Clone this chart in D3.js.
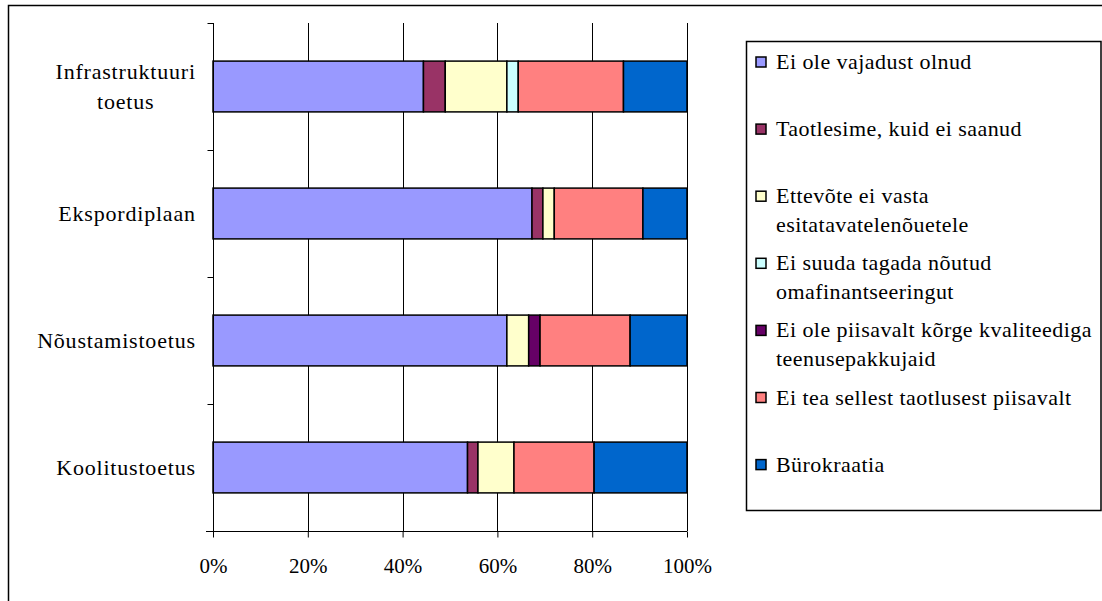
<!DOCTYPE html>
<html><head><meta charset="utf-8">
<script src="https://cdn.jsdelivr.net/npm/d3@7"></script>
<style>
body{margin:0;background:#fff;}
</style></head>
<body><svg id="chart" width="1102" height="601"></svg>
<script>
const categories = ["Infrastruktuuri toetus", "Ekspordiplaan", "Nõustamistoetus", "Koolitustoetus"];
const categoryLines = [["Infrastruktuuri", "toetus"], ["Ekspordiplaan"], ["Nõustamistoetus"], ["Koolitustoetus"]];
const seriesNames = ["Ei ole vajadust olnud", "Taotlesime, kuid ei saanud", "Ettevõte ei vasta esitatavatelenõuetele", "Ei suuda tagada nõutud omafinantseeringut", "Ei ole piisavalt kõrge kvaliteediga teenusepakkujaid", "Ei tea sellest taotlusest piisavalt", "Bürokraatia"];
const legendLines = [["Ei ole vajadust olnud"], ["Taotlesime, kuid ei saanud"], ["Ettevõte ei vasta", "esitatavatelenõuetele"], ["Ei suuda tagada nõutud", "omafinantseeringut"], ["Ei ole piisavalt kõrge kvaliteediga", "teenusepakkujaid"], ["Ei tea sellest taotlusest piisavalt"], ["Bürokraatia"]];
const colors = ["#9999FF", "#993366", "#FFFFCC", "#CCFFFF", "#660066", "#FF8080", "#0066CC"];
// values per series, in order of categories
const s1 = [44.4, 67.3, 62.0, 53.7];
const s2 = [4.6, 2.3, 0, 2.2];
const s3 = [13.0, 2.4, 4.6, 7.6];
const s4 = [2.4, 0, 0, 0];
const s5 = [0, 0, 2.4, 0];
const s6 = [22.2, 18.7, 19.0, 16.9];
const s7 = [13.4, 9.3, 12.0, 19.6];
const tickValues = [0, 0.2, 0.4, 0.6, 0.8, 1.0];

const FONT = "'Liberation Serif', 'Times New Roman', serif";
const series = [s1, s2, s3, s4, s5, s6, s7];
const rows = categories.map((c, i) => {
  const o = {cat: c};
  seriesNames.forEach((s, j) => o[s] = series[j][i]);
  return o;
});
const stacked = d3.stack().keys(seriesNames).offset(d3.stackOffsetExpand)(rows);

const svg = d3.select("#chart").style("font-family", FONT);
svg.append("rect").attr("x", 8.5).attr("y", 5.5).attr("width", 1100).attr("height", 600)
  .attr("fill", "none").attr("stroke", "#000").attr("stroke-width", 1.5);

const x = d3.scaleLinear().domain([0, 1]).range([213, 687]);
const y = d3.scaleBand().domain(categories).range([23, 531]).padding(0);
const bw = y.bandwidth();

svg.append("g").selectAll("line").data(tickValues.slice(1)).join("line")
  .attr("x1", d => Math.round(x(d)) + 0.5).attr("x2", d => Math.round(x(d)) + 0.5)
  .attr("y1", 23).attr("y2", 531).attr("stroke", "#000").attr("stroke-width", 1);

svg.append("g").selectAll("g").data(stacked).join("g")
  .attr("fill", (d, i) => colors[i])
  .selectAll("rect").data(d => d.filter(p => p[1] - p[0] > 0)).join("rect")
  .attr("x", d => x(d[0])).attr("width", d => x(d[1]) - x(d[0]))
  .attr("y", d => y(d.data.cat) + bw * 0.3).attr("height", bw * 0.4)
  .attr("stroke", "#000").attr("stroke-width", 1.5);

const xAxis = d3.axisBottom(x).tickValues(tickValues).tickFormat(d3.format(".0%")).tickSize(6).tickSizeOuter(0);
const gx = svg.append("g").attr("transform", "translate(0,531.5)").call(xAxis);
gx.attr("font-family", null).attr("font-size", null);
gx.select(".domain").attr("d", "M206,0H687").attr("stroke", "#000");
gx.selectAll(".tick line").attr("stroke", "#000");
gx.selectAll(".tick text").attr("y", 41).attr("dy", 0).style("font-family", FONT).style("font-size", "21px");

const yAxis = d3.axisLeft(y).tickSize(0).tickFormat("");
const gy = svg.append("g").attr("transform", "translate(213.5,0)").call(yAxis);
gy.select(".domain").attr("d", "M0,23V531").attr("stroke", "#000");
const bounds = [23, ...categories.map(c => y(c) + bw)];
gy.selectAll(".bt").data(bounds).join("line").attr("class", "bt")
  .attr("x1", -6).attr("x2", 0).attr("y1", d => Math.round(d) + 0.5).attr("y2", d => Math.round(d) + 0.5)
  .attr("stroke", "#000");

categories.forEach((c, i) => {
  const lines = categoryLines[i];
  const cy = y(c) + bw / 2;
  const t = svg.append("text").attr("text-anchor", "middle").style("font-family", FONT).style("font-size", "22px").attr("letter-spacing", "0.8px");
  lines.forEach((l, k) => {
    t.append("tspan").attr("x", 0).attr("y", cy + 7 + (k - (lines.length - 1) / 2) * 30).text(l);
  });
  const w = t.node().getBBox().width;
  t.selectAll("tspan").attr("x", 195.8 - w / 2);
});

svg.append("rect").attr("x", 746.5).attr("y", 41.5).attr("width", 354.5).attr("height", 469)
  .attr("fill", "#fff").attr("stroke", "#000").attr("stroke-width", 1.5);
const lg = svg.append("g");
legendLines.forEach((lines, i) => {
  const cy = 62 + i * 67.1;
  lg.append("rect").attr("x", 756).attr("y", cy - 5).attr("width", 10).attr("height", 10)
    .attr("fill", colors[i]).attr("stroke", "#000").attr("stroke-width", 1.5);
  const t = lg.append("text").style("font-family", FONT).style("font-size", "22px").attr("letter-spacing", "0.45px");
  lines.forEach((l, k) => t.append("tspan").attr("x", 776).attr("y", cy + 7 + k * 29).text(l));
});
</script></body></html>
